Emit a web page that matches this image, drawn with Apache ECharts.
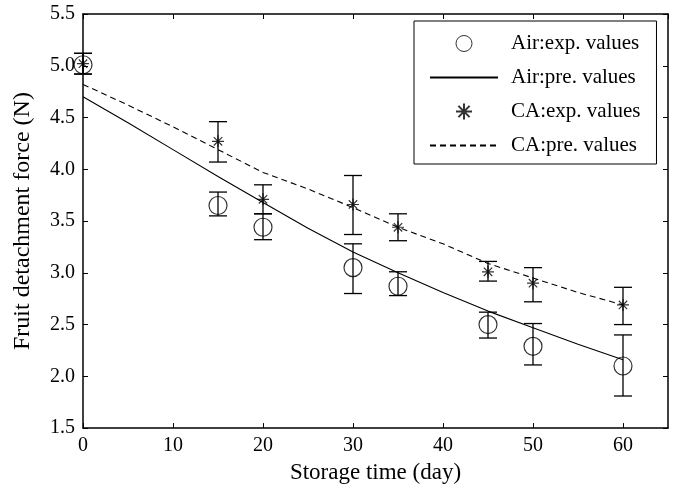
<!DOCTYPE html>
<html>
<head>
<meta charset="utf-8">
<script src="https://cdn.jsdelivr.net/npm/echarts@6/dist/echarts.min.js"></script>
<style>
  html, body { margin: 0; padding: 0; background: #fff; }
  #chart { width: 675px; height: 489px; }
</style>
</head>
<body>
<div id="chart"></div>
<script>
// experimental points
const expDays = [0, 15, 20, 30, 35, 45, 50, 60];
const airExp = [5.01, 3.65, 3.44, 3.05, 2.87, 2.50, 2.29, 2.10];
const airLow = [4.92, 3.55, 3.32, 2.80, 2.78, 2.37, 2.11, 1.81];
const airHigh = [5.12, 3.78, 3.57, 3.28, 3.01, 2.62, 2.51, 2.40];
const caExp = [5.02, 4.27, 3.71, 3.66, 3.44, 3.01, 2.90, 2.69];
const caLow = [4.92, 4.07, 3.57, 3.37, 3.31, 2.92, 2.72, 2.50];
const caHigh = [5.12, 4.46, 3.85, 3.94, 3.57, 3.11, 3.05, 2.86];

// predicted curves
const predDays = [0, 5, 10, 15, 20, 25, 30, 35, 40, 45, 50, 55, 60];
const airPred = [4.70, 4.45, 4.19, 3.93, 3.68, 3.43, 3.20, 3.00, 2.81, 2.63, 2.47, 2.31, 2.16];
const caPred = [4.82, 4.62, 4.41, 4.19, 3.97, 3.81, 3.63, 3.44, 3.28, 3.09, 2.95, 2.81, 2.69];

const fontFam = "'Liberation Serif', 'Times New Roman', serif";
const starPath = 'path://M0,-1L0,1M-1,0L1,0M-0.7,-0.7L0.7,0.7M-0.7,0.7L0.7,-0.7';

const chart = echarts.init(document.getElementById('chart'));

const pairs = (xs, ys) => xs.map((x, i) => [x, ys[i]]);
const bars = (lo, hi) => expDays.map((x, i) => [x, lo[i], hi[i]]);

// error bar: vertical line plus two caps
const renderErr = (params, api) => {
  const top = api.coord([api.value(0), api.value(2)]);
  const bot = api.coord([api.value(0), api.value(1)]);
  const w = 9;
  const st = { stroke: '#000', lineWidth: 1.3 };
  return {
    type: 'group',
    children: [
      { type: 'line', shape: { x1: top[0], y1: top[1], x2: bot[0], y2: bot[1] }, style: st },
      { type: 'line', shape: { x1: top[0] - w, y1: top[1], x2: top[0] + w, y2: top[1] }, style: st },
      { type: 'line', shape: { x1: bot[0] - w, y1: bot[1], x2: bot[0] + w, y2: bot[1] }, style: st }
    ]
  };
};

const axisCommon = {
  axisLine: { show: true, onZero: false, lineStyle: { color: '#000', width: 1.5 } },
  axisTick: { show: true, inside: true, length: 5, lineStyle: { color: '#000', width: 1 } },
  splitLine: { show: false }
};

const option = {
  animation: false,
  backgroundColor: '#fff',
  grid: { left: 83, right: 7, top: 14, bottom: 55 },
  legend: {
    orient: 'vertical',
    left: 414,
    top: 21,
    padding: [12, 16, 8, 15],
    itemWidth: 68,
    itemHeight: 16,
    itemGap: 13,
    backgroundColor: '#fff',
    borderColor: '#000',
    borderWidth: 1,
    borderRadius: 0,
    textStyle: { fontFamily: fontFam, fontSize: 21, color: '#000', padding: [0, 0, 0, 8] },
    data: [
      { name: 'Air:exp. values', itemStyle: { borderWidth: 1 } },
      { name: 'Air:pre. values', itemStyle: { opacity: 0 } },
      { name: 'CA:exp. values' },
      { name: 'CA:pre. values', itemStyle: { opacity: 0 } }
    ]
  },
  xAxis: [
    Object.assign({
      type: 'value', min: 0, max: 65, interval: 10,
      name: 'Storage time (day)', nameLocation: 'middle', nameGap: 25,
      nameTextStyle: { fontFamily: fontFam, fontSize: 23, color: '#000' },
      axisLabel: { fontFamily: fontFam, fontSize: 20, color: '#000', margin: 8, showMaxLabel: false }
    }, axisCommon),
    Object.assign({
      type: 'value', min: 0, max: 65, interval: 10, position: 'top',
      axisLabel: { show: false }
    }, axisCommon)
  ],
  yAxis: [
    Object.assign({
      type: 'value', min: 1.5, max: 5.5, interval: 0.5,
      name: 'Fruit detachment force (N)', nameLocation: 'middle', nameGap: 48,
      nameTextStyle: { fontFamily: fontFam, fontSize: 24, color: '#000' },
      axisLabel: { fontFamily: fontFam, fontSize: 20, color: '#000', margin: 8,
        formatter: (v) => v.toFixed(1) }
    }, axisCommon),
    Object.assign({
      type: 'value', min: 1.5, max: 5.5, interval: 0.5, position: 'right',
      axisLabel: { show: false }
    }, axisCommon)
  ],
  series: [
    {
      name: 'Air:pre. values', type: 'line', data: pairs(predDays, airPred),
      symbol: 'none',
      lineStyle: { color: '#000', width: 1.1 }, itemStyle: { color: '#000' }
    },
    {
      name: 'CA:pre. values', type: 'line', data: pairs(predDays, caPred),
      symbol: 'none',
      lineStyle: { color: '#000', width: 1.1, type: [6, 4] }, itemStyle: { color: '#000' }
    },
    { name: 'airErr', type: 'custom', data: bars(airLow, airHigh), renderItem: renderErr, silent: true },
    { name: 'caErr', type: 'custom', data: bars(caLow, caHigh), renderItem: renderErr, silent: true },
    {
      name: 'Air:exp. values', type: 'scatter', data: pairs(expDays, airExp),
      symbol: 'circle', symbolSize: 18,
      itemStyle: { color: 'rgba(0,0,0,0)', borderColor: '#000', borderWidth: 1.2 }
    },
    {
      name: 'CA:exp. values', type: 'scatter', data: pairs(expDays, caExp),
      symbol: starPath, symbolSize: 12, symbolKeepAspect: true,
      itemStyle: { color: '#000', borderColor: '#000', borderWidth: 1.2 }
    }
  ]
};

chart.setOption(option);
</script>
</body>
</html>
